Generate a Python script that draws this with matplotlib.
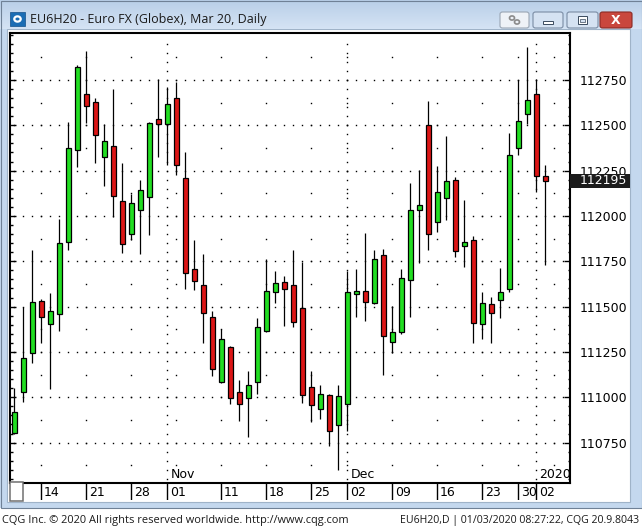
import numpy as np
import pandas as pd
import matplotlib
matplotlib.use("Agg")
import matplotlib.pyplot as plt
from matplotlib.patches import Rectangle, FancyBboxPatch, Circle
from matplotlib.ticker import MultipleLocator, FixedLocator, FuncFormatter
from matplotlib.transforms import blended_transform_factory

# trading days on the time axis (CME closed Thanksgiving, Christmas, New Year)
HOLIDAYS = ["2019-11-28", "2019-12-25", "2020-01-01"]
AXIS_DAYS = [d for d in pd.bdate_range("2019-10-09", "2020-01-07")
             if d.strftime("%Y-%m-%d") not in HOLIDAYS]

# daily OHLC, EU6H20, Oct 09 2019 .. Jan 03 2020
opens = [110805, 111030, 111245, 111530, 111405, 111460, 111855, 112365, 112675, 112630,
         112325, 112385, 112085, 111900, 112035, 112105, 112535, 112505, 112650, 112210,
         111705, 111620, 111440, 111085, 111275, 111030, 110995, 111085, 111365, 111580,
         111635, 111620, 111490, 111055, 110935, 111015, 110845, 110965, 111570, 111585,
         111520, 111785, 111305, 111360, 111645, 112035, 112500, 111965, 112100, 112200,
         111835, 111865, 111405, 111515, 111535, 111595, 112375, 112560, 112675, 112220]
highs = [111050, 111500, 111810, 111540, 111575, 111985, 112520, 112835, 112910, 112650,
         112505, 112700, 112290, 112120, 112200, 112520, 112755, 112710, 112740, 112350,
         111870, 111790, 111475, 111375, 111285, 111095, 111145, 111435, 111765, 111695,
         111670, 111810, 111745, 111145, 111065, 111020, 111070, 111695, 111710, 111905,
         111810, 111820, 111505, 111710, 112180, 112255, 112635, 112275, 112440, 112215,
         112090, 111890, 111580, 111555, 111715, 112460, 112750, 112930, 112755, 112280]
lows = [110795, 110975, 111190, 111300, 111045, 111365, 111810, 112270, 112515, 112290,
        112165, 111995, 111795, 111870, 111790, 111895, 112325, 112280, 112225, 111595,
        111590, 111300, 111115, 111080, 110965, 110870, 110780, 111020, 111360, 111520,
        111395, 111390, 110970, 110865, 110880, 110730, 110600, 110815, 111440, 111420,
        111515, 111120, 111245, 111350, 111445, 111740, 111810, 111910, 111980, 111775,
        111720, 111300, 111320, 111300, 111435, 111580, 112335, 112505, 112130, 111730]
closes = [110920, 111215, 111525, 111440, 111475, 111850, 112375, 112820, 112605, 112445,
          112415, 112110, 111845, 112070, 112145, 112515, 112505, 112615, 112280, 111685,
          111640, 111465, 111155, 111320, 110995, 110960, 111065, 111385, 111585, 111630,
          111595, 111415, 111010, 110955, 111020, 110815, 111005, 111580, 111585, 111525,
          111765, 111340, 111360, 111655, 112035, 112060, 111900, 112130, 112195, 111805,
          111855, 111410, 111520, 111465, 111580, 112335, 112525, 112640, 112220, 112195]

price_ticks = [110750, 111000, 111250, 111500, 111750, 112000, 112250, 112500, 112750]
date_label_days = ["2019-10-14", "2019-10-21", "2019-10-28", "2019-11-01", "2019-11-11",
                   "2019-11-18", "2019-11-25", "2019-12-02", "2019-12-09", "2019-12-16",
                   "2019-12-23", "2019-12-30", "2020-01-02"]
month_days = ["2019-11-01", "2019-12-02", "2020-01-02"]
month_labels = ["Nov", "Dec", "2020"]

title = "EU6H20 - Euro FX (Globex), Mar 20, Daily"
footer_left = "CQG Inc. \u00a9 2020 All rights reserved worldwide. http://www.cqg.com"
footer_right = "EU6H20,D | 01/03/2020 08:27:22, CQG 20.9.8043"

W, H = 642, 528
GREEN = "#22de22"
RED = "#dc1616"
FRAME = "#c4d8ee"


def day_index(day):
    return AXIS_DAYS.index(pd.Timestamp(day))


def fig_rect(fig, x0, y0, x1, y1, **kw):
    # rectangle given in screen pixels (origin top-left)
    r = Rectangle((x0 / W, 1 - y1 / H), (x1 - x0) / W, (y1 - y0) / H,
                  transform=fig.transFigure, figure=fig, **kw)
    fig.patches.append(r)
    return r


def fig_text(fig, x, y, s, **kw):
    fig.text(x / W, 1 - y / H, s, **kw)


fig = plt.figure(figsize=(W / 100, H / 100), dpi=100, facecolor="white")

# window frame
fig_rect(fig, 0, 0, 642, 508, facecolor=FRAME, edgecolor="none", zorder=-5)
fig_rect(fig, 7, 29, 630, 502, facecolor="white", edgecolor="#9fb3c8", lw=0.8, zorder=-4)
tax = fig.add_axes([0, 1 - 29 / H, 1, 29 / H], zorder=-3)
grad = np.linspace(0, 1, 29)[:, None]
c0 = np.array(matplotlib.colors.to_rgb("#b9cfe8"))
c1 = np.array(matplotlib.colors.to_rgb("#d4e3f4"))
tax.imshow(c0 + grad[..., None] * (c1 - c0), aspect="auto", extent=(0, 1, 0, 1))
tax.axis("off")
fig_rect(fig, 0.5, 0.5, 641.5, 507.5, facecolor="none", edgecolor="#6f8196", lw=0.8, zorder=8)

# title bar content
fig_rect(fig, 10, 12, 25, 26, facecolor="#1b6db4", edgecolor="#12508a", lw=0.5, zorder=6)
fig.patches.append(Circle((17.5 / W, 1 - 19 / H), 3.2 / W, transform=fig.transFigure,
                          facecolor="none", edgecolor="white", lw=1.6, zorder=7))
fig_text(fig, 30, 19, title, fontsize=9, family="Open Sans", va="center", ha="left",
         color="#1a1a1a")
for x0, x1, fc, ec in [(500, 529, "#eef2f7", "#9aa6b4"), (533, 563, "#d5e2f2", "#7a8ca4"),
                       (567, 598, "#d5e2f2", "#7a8ca4"), (600, 632, "#c9473d", "#8a2a24")]:
    b = FancyBboxPatch((x0 / W, 1 - 28 / H), (x1 - x0) / W, 16 / H,
                       boxstyle="round,pad=0,rounding_size=0.004",
                       transform=fig.transFigure, facecolor=fc, edgecolor=ec, lw=0.8, zorder=6)
    fig.patches.append(b)
fig.patches.append(Circle((512 / W, 1 - 18 / H), 2.5 / W, transform=fig.transFigure,
                          facecolor="none", edgecolor="#8a8a8a", lw=1.2, zorder=7))
fig.patches.append(Circle((517 / W, 1 - 22 / H), 2.5 / W, transform=fig.transFigure,
                          facecolor="none", edgecolor="#8a8a8a", lw=1.2, zorder=7))
fig_rect(fig, 543, 21, 553, 24, facecolor="white", edgecolor="#3a4a5e", lw=0.7, zorder=7)
fig_rect(fig, 578, 16, 587, 24, facecolor="white", edgecolor="#3a4a5e", lw=0.7, zorder=7)
fig_rect(fig, 580, 19, 585, 22, facecolor="#d5e2f2", edgecolor="#3a4a5e", lw=0.5, zorder=7)
fig_text(fig, 616, 20, "X", fontsize=9, fontweight="bold", color="white", ha="center",
         va="center", family="DejaVu Sans", zorder=7)

# chart area
ax = fig.add_axes([10 / W, 1 - 483 / H, 560 / W, 450 / H])
ax.set_xlim(-0.48, 61.74)
ax.set_ylim(110527, 113009)
for s in ax.spines.values():
    s.set_linewidth(1.5)
    s.set_color("black")

# dotted grid
n_axis = len(AXIS_DAYS)
week_idx = [i for i in range(1, n_axis) if AXIS_DAYS[i].weekday() < AXIS_DAYS[i - 1].weekday()]
month_idx = [day_index(d) for d in month_days]
major_lv = np.array(price_ticks)
half_lv = np.arange(110625, 113000, 125)
fine_lv = np.arange(110550, 113000, 50)
dot = dict(ls="none", marker="s", ms=1.0, mew=0, color="black", zorder=1)
gx, gy = np.meshgrid(np.arange(n_axis), major_lv)
ax.plot(gx.ravel(), gy.ravel(), **dot)
gx, gy = np.meshgrid(week_idx, half_lv)
ax.plot(gx.ravel(), gy.ravel(), **dot)
gx, gy = np.meshgrid(month_idx, fine_lv)
ax.plot(gx.ravel(), gy.ravel(), **dot)

# candles
o, hi, lo, c = map(np.array, (opens, highs, lows, closes))
idx = np.arange(len(o))
cols = [GREEN if cc >= oo else RED for oo, cc in zip(o, c)]
ax.vlines(idx, lo, hi, color="black", lw=0.9, zorder=2)
ax.bar(idx, np.abs(c - o), bottom=np.minimum(o, c), width=0.56, color=cols,
       edgecolor="black", linewidth=0.9, zorder=3)

# price axis
ax.yaxis.set_major_locator(FixedLocator(price_ticks))
ax.yaxis.set_minor_locator(MultipleLocator(50))
ax.yaxis.set_major_formatter(FuncFormatter(lambda v, p: f"{v:.0f}"))
ax.tick_params(axis="y", which="both", direction="in", left=True, right=True,
               labelleft=False, labelright=True, colors="black")
ax.tick_params(axis="y", which="major", length=4, width=1, pad=7, labelsize=9)
ax.tick_params(axis="y", which="minor", length=1.8, width=1)
ax.set_xticks([])

# last price marker
tr = blended_transform_factory(ax.transAxes, ax.transData)
last = closes[-1]
ax.add_patch(Rectangle((1.0, last - 39), 60 / 560, 78, transform=tr, clip_on=False,
                       facecolor="#1c1c1c", edgecolor="none", zorder=10))
ax.annotate(f"{last}", (1.0, last), xycoords=tr, xytext=(7.3, 0), textcoords="offset points",
            color="white", fontsize=9, va="center", ha="left", zorder=11, annotation_clip=False)

# month names along the bottom of the plot
trm = blended_transform_factory(ax.transData, ax.transAxes)
for d, lab in zip(month_days, month_labels):
    ax.annotate(lab, (day_index(d), 0), xycoords=trm, xytext=(2.2, 1.4),
                textcoords="offset points", fontsize=9, ha="left", va="bottom")

# date row
dax = fig.add_axes([10 / W, 1 - 500 / H, 560 / W, 17 / H], sharex=ax)
dax.set_ylim(0, 1)
dax.axis("off")
for d in date_label_days:
    i = day_index(d)
    dax.axvline(i, color="black", lw=1)
    dax.annotate(pd.Timestamp(d).strftime("%d"), (i, 0.5), xytext=(2.0, -0.6),
                 textcoords="offset points", fontsize=9, ha="left", va="center")
fig_rect(fig, 9.5, 482, 23, 501, facecolor="white", edgecolor="#707070", lw=1.1, zorder=6)

# footer
fig_text(fig, 2, 520, footer_left, fontsize=7.9, family="Open Sans", va="center", ha="left",
         color="#1a1a1a")
fig_text(fig, 639, 520, footer_right, fontsize=7.6, family="Open Sans", va="center",
         ha="right", color="#1a1a1a")

fig.savefig("out.png", dpi=100, facecolor="white")
